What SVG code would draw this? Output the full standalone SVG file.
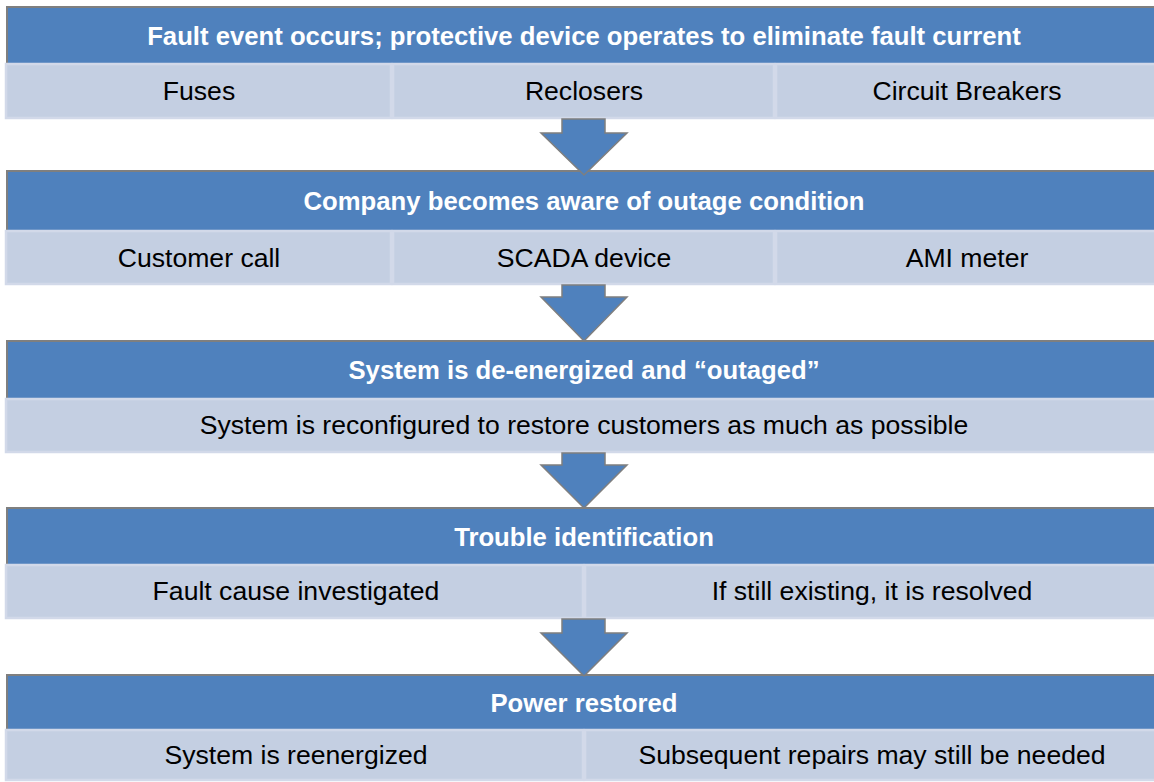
<svg xmlns="http://www.w3.org/2000/svg" width="1154" height="782" viewBox="0 0 1154 782">
<style>
.hdr{fill:#4f81bd;stroke:#7f7f7f;stroke-width:2}
.cell{fill:#c4cfe2;stroke:#d2d9e9;stroke-width:2.5}
.ht{font-family:"Liberation Sans",Arial,sans-serif;font-weight:bold;font-size:25.7px;fill:#ffffff;text-anchor:middle}
.ct{font-family:"Liberation Sans",Arial,sans-serif;font-size:26.6px;fill:#000000;text-anchor:middle}
.arr{fill:#4f81bd;stroke:#7f7f7f;stroke-width:1.5;stroke-linejoin:miter}
</style>
<rect width="1154" height="782" fill="#ffffff"/>
<g id="step1">
<rect class="hdr" x="7" y="7" width="1160" height="57"/>
<text class="ht" x="584" y="45">Fault event occurs; protective device operates to eliminate fault current</text>
<rect class="cell" x="6" y="64" width="385" height="54"/>
<rect class="cell" x="393" y="64" width="381" height="54"/>
<rect class="cell" x="776" y="64" width="390" height="54"/>
<text class="ct" x="199" y="100">Fuses</text>
<text class="ct" x="584" y="100">Reclosers</text>
<text class="ct" x="967" y="100">Circuit Breakers</text>
</g>
<g id="step2">
<rect class="hdr" x="7" y="171" width="1160" height="60"/>
<text class="ht" x="584" y="210">Company becomes aware of outage condition</text>
<rect class="cell" x="6" y="231" width="385" height="53"/>
<rect class="cell" x="393" y="231" width="381" height="53"/>
<rect class="cell" x="776" y="231" width="390" height="53"/>
<text class="ct" x="199" y="267">Customer call</text>
<text class="ct" x="584" y="267">SCADA device</text>
<text class="ct" x="967" y="267">AMI meter</text>
</g>
<g id="step3">
<rect class="hdr" x="7" y="341" width="1160" height="58"/>
<text class="ht" x="584" y="379">System is de-energized and “outaged”</text>
<rect class="cell" x="6" y="399" width="1160" height="53"/>
<text class="ct" x="584" y="434">System is reconfigured to restore customers as much as possible</text>
</g>
<g id="step4">
<rect class="hdr" x="7" y="508" width="1160" height="57"/>
<text class="ht" x="584" y="546">Trouble identification</text>
<rect class="cell" x="6" y="565" width="577" height="53"/>
<rect class="cell" x="585" y="565" width="580" height="53"/>
<text class="ct" x="296" y="600">Fault cause investigated</text>
<text class="ct" x="872" y="600">If still existing, it is resolved</text>
</g>
<g id="step5">
<rect class="hdr" x="7" y="675" width="1160" height="55"/>
<text class="ht" x="584" y="712">Power restored</text>
<rect class="cell" x="6" y="730" width="577" height="50"/>
<rect class="cell" x="585" y="730" width="580" height="50"/>
<text class="ct" x="296" y="764">System is reenergized</text>
<text class="ct" x="872" y="764">Subsequent repairs may still be needed</text>
</g>
<g id="connectors">
<path class="arr" d="M562,119 L605,119 L605,133 L627,133 L584,175 L541,133 L562,133 Z"/>
<path class="arr" d="M562,285 L605,285 L605,297 L627,297 L584,341 L541,297 L562,297 Z"/>
<path class="arr" d="M562,453 L605,453 L605,465 L627,465 L584,508 L541,465 L562,465 Z"/>
<path class="arr" d="M562,619 L605,619 L605,633 L627,633 L584,676 L541,633 L562,633 Z"/>
</g>
</svg>
